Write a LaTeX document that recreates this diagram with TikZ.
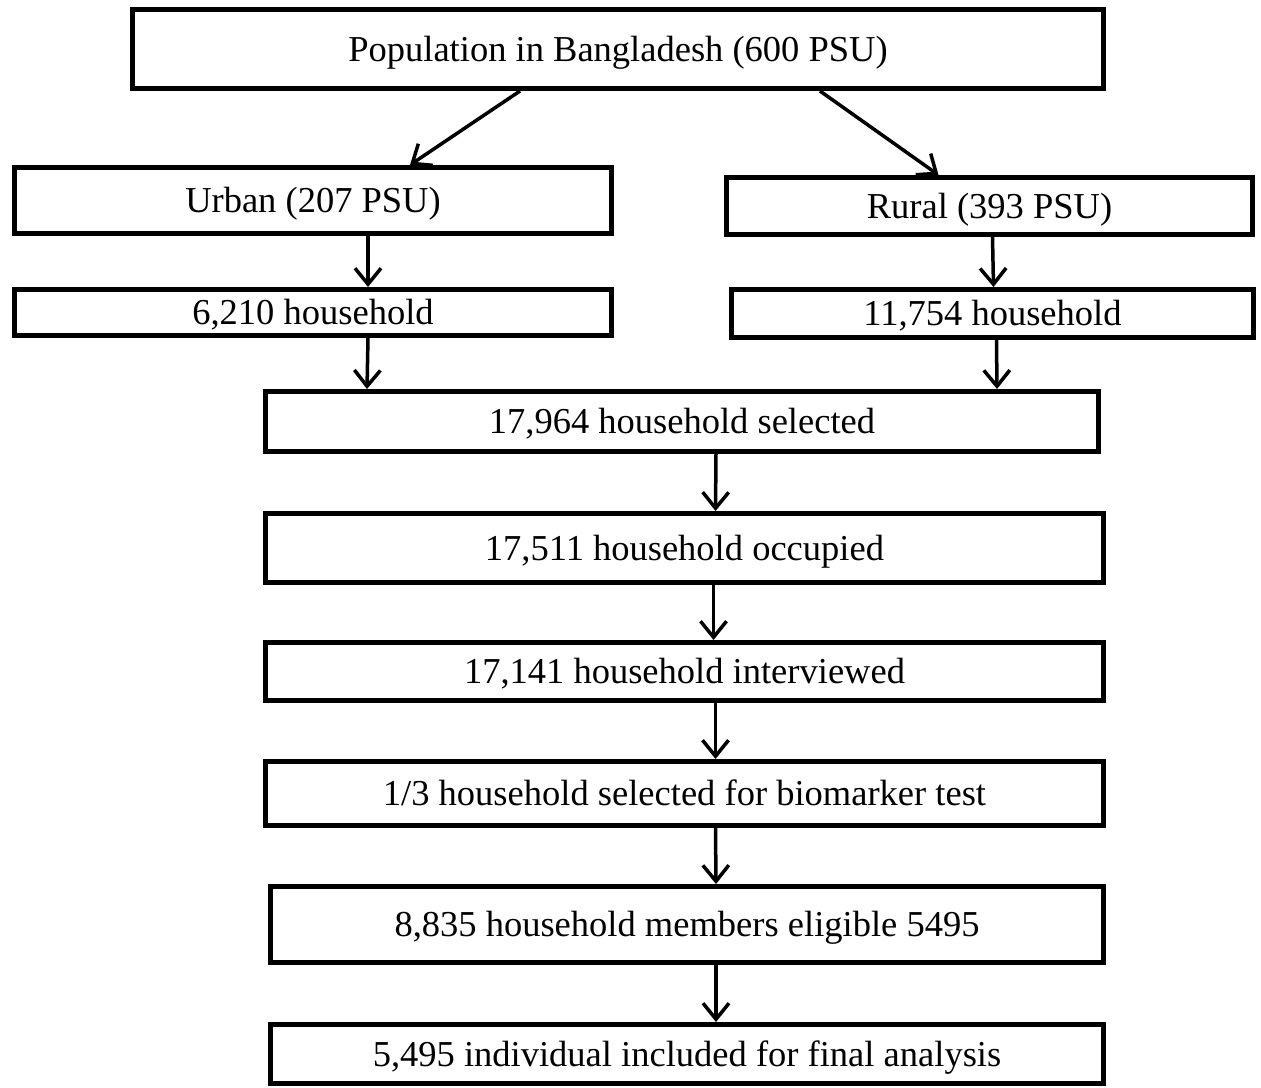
\documentclass[tikz,border=0pt]{standalone}
\usepackage{fontspec}
\setmainfont{Liberation Serif}
\usetikzlibrary{arrows.meta}

\tikzset{
  stage/.style={draw,line width=5pt,inner sep=0pt,text height=24pt,text depth=0pt,
    font=\fontsize{36.5}{44}\selectfont},
  flow/.style={->,line width=3.5pt},
}

\begin{document}
\begin{tikzpicture}[x=1pt,y=-1pt,>={Straight Barb[length=16pt,width=26pt]}]
  \useasboundingbox (0,0) rectangle (1261,1087);

  \node [stage,minimum width=971pt,minimum height=79pt] (pop) at (618,49) {Population in Bangladesh (600 PSU)};
  \node [stage,minimum width=597pt,minimum height=66pt] (urban) at (313,200.5) {Urban (207 PSU)};
  \node [stage,minimum width=526pt,minimum height=57pt] (rural) at (989.5,206) {Rural (393 PSU)};
  \node [stage,minimum width=597pt,minimum height=46pt] (hhurban) at (313,312.5) {6,210 household};
  \node [stage,minimum width=522pt,minimum height=48pt] (hhrural) at (992.5,313.5) {11,754 household};
  \node [stage,minimum width=833pt,minimum height=60pt] (selected) at (682,421.5) {17,964 household selected};
  \node [stage,minimum width=838pt,minimum height=69pt] (occupied) at (684.5,548) {17,511 household occupied};
  \node [stage,minimum width=838pt,minimum height=58pt] (interviewed) at (684.5,671.5) {17,141 household interviewed};
  \node [stage,minimum width=838pt,minimum height=64pt] (biomarker) at (684.5,793.5) {1/3 household selected for biomarker test};
  \node [stage,minimum width=833pt,minimum height=76pt] (eligible) at (687,924.5) {8,835 household members eligible 5495};
  \node [stage,minimum width=833pt,minimum height=59pt] (final) at (687,1054) {5,495 individual included for final analysis};

  \draw [flow] ([xshift=-98pt]pop.south) -- ([xshift=97pt]urban.north);
  \draw [flow] ([xshift=202pt]pop.south) -- ([xshift=-51pt]rural.north);
  \draw [flow] ([xshift=55pt]urban.south) -- ([xshift=55pt]hhurban.north);
  \draw [flow] ([xshift=3pt]rural.south) -- ([xshift=1pt]hhrural.north);
  \draw [flow] ([xshift=55pt]hhurban.south) -- ([xshift=-315pt]selected.north);
  \draw [flow] ([xshift=4pt]hhrural.south) -- ([xshift=315pt]selected.north);
  \draw [flow] ([xshift=34pt]selected.south) -- ([xshift=31pt]occupied.north);
  \draw [flow] ([xshift=29pt]occupied.south) -- ([xshift=29pt]interviewed.north);
  \draw [flow] ([xshift=31pt]interviewed.south) -- ([xshift=31pt]biomarker.north);
  \draw [flow] ([xshift=31pt]biomarker.south) -- ([xshift=29pt]eligible.north);
  \draw [flow] ([xshift=29pt]eligible.south) -- ([xshift=29pt]final.north);
\end{tikzpicture}
\end{document}
